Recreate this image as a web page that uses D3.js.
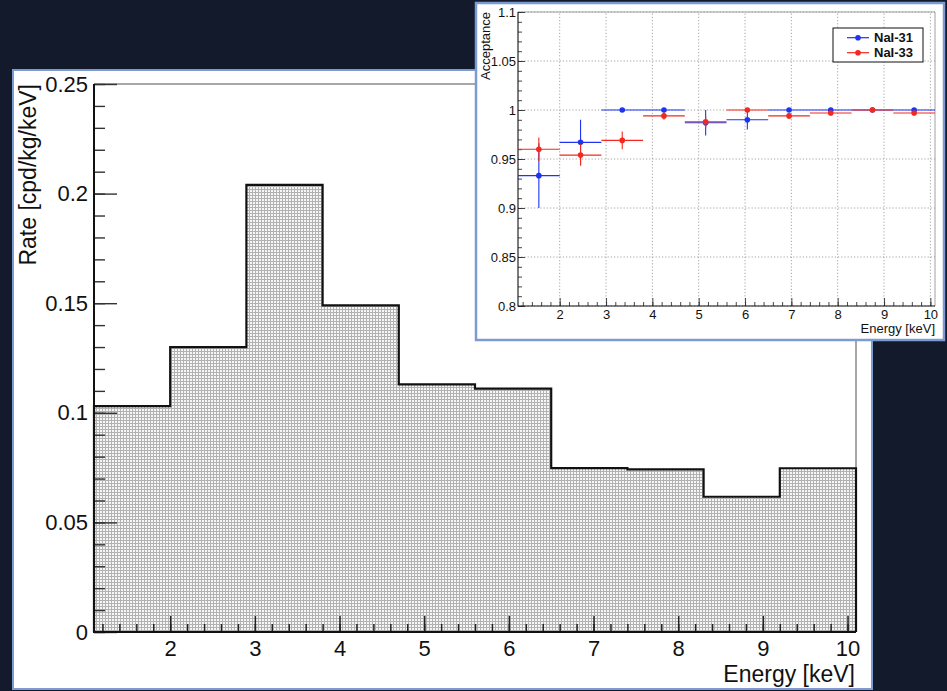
<!DOCTYPE html>
<html>
<head>
<meta charset="utf-8">
<script src="https://cdn.jsdelivr.net/npm/d3@7"></script>
<style>
  html, body { margin: 0; padding: 0; background: #131a2b; }
  svg { display: block; }
  text { font-family: "Liberation Sans", Arial, Helvetica, sans-serif; }
</style>
</head>
<body>
<svg id="chart" width="947" height="691"></svg>
<script>
// ---- Rate spectrum (main histogram) ----
const binEdges = [1.1, 2.0, 2.9, 3.8, 4.7, 5.6, 6.5, 7.4, 8.3, 9.2, 10.1];
const rates = [0.103, 0.130, 0.204, 0.149, 0.113, 0.111, 0.0748, 0.0742, 0.0617, 0.0747];
const rateTicks = [0, 0.05, 0.1, 0.15, 0.2, 0.25];
const rateTickLabels = ["0", "0.05", "0.1", "0.15", "0.2", "0.25"];
const energyTicks = [2, 3, 4, 5, 6, 7, 8, 9, 10];
const energyTickLabels = ["2", "3", "4", "5", "6", "7", "8", "9", "10"];

// ---- Acceptance per detector (inset) ----
const binCenters = [1.55, 2.45, 3.35, 4.25, 5.15, 6.05, 6.95, 7.85, 8.75, 9.65];
const seriesNames = ["NaI-31", "NaI-33"];
const seriesColors = ["#1d35f2", "#f2291f"];
const nai31 = [0.933, 0.967, 1.000, 1.000, 0.987, 0.990, 1.000, 1.000, 1.000, 1.000];
const nai31Err = [0.033, 0.023, 0, 0, 0.013, 0.010, 0, 0, 0, 0];
const nai33 = [0.960, 0.954, 0.969, 0.994, 0.988, 1.000, 0.994, 0.997, 1.000, 0.997];
const nai33Err = [0.012, 0.011, 0.009, 0.004, 0.006, 0, 0.003, 0.002, 0, 0.002];
const acceptanceTicks = [0.8, 0.85, 0.9, 0.95, 1.0, 1.05, 1.1];
const acceptanceTickLabels = ["0.8", "0.85", "0.9", "0.95", "1", "1.05", "1.1"];

const svg = d3.select("#chart");
const FONT = '"Liberation Sans", Arial, Helvetica, sans-serif';
const panelBorder = "#7c9bd3";

// dotted fill used by the histogram
const defs = svg.append("defs");
const pat = defs.append("pattern")
  .attr("id", "dotFill").attr("patternUnits", "userSpaceOnUse")
  .attr("width", 3).attr("height", 3);
pat.append("rect").attr("width", 3).attr("height", 3).attr("fill", "#b2b2b2");
pat.append("rect").attr("x", 1).attr("y", 1).attr("width", 2).attr("height", 2).attr("fill", "#f6f6f6");

// ================= main panel =================
svg.append("rect")
  .attr("x", 13).attr("y", 70).attr("width", 859).attr("height", 619)
  .attr("fill", "#ffffff").attr("stroke", panelBorder).attr("stroke-width", 2);

const x = d3.scaleLinear().domain([1.1, 10.1]).range([94, 856]);
const y = d3.scaleLinear().domain([0, 0.25]).range([632, 84]);

const main = svg.append("g");

// filled histogram
const stepPts = binEdges.map((e, i) => [e, rates[Math.min(i, rates.length - 1)]]);
main.append("path")
  .datum(stepPts)
  .attr("d", d3.area().curve(d3.curveStepAfter)
    .x(d => x(d[0])).y0(y(0)).y1(d => y(d[1])))
  .attr("fill", "url(#dotFill)");

// frame: top and right in grey
main.append("path")
  .attr("d", `M${x(1.1)},${y(0.25)}H${x(10.1)}V${y(0)}`)
  .attr("fill", "none").attr("stroke", "#8a8a8a").attr("stroke-width", 1.5);

// histogram outline
const outlinePts = [[binEdges[0], 0], ...stepPts, [binEdges[binEdges.length - 1], 0]];
main.append("path")
  .datum(outlinePts)
  .attr("d", d3.line().curve(d3.curveStepAfter).x(d => x(d[0])).y(d => y(d[1])))
  .attr("fill", "none").attr("stroke", "#111").attr("stroke-width", 2.2);

// y axis (ticks point inward)
const yMinor = d3.range(0, 0.2501, 0.01);
main.append("g").attr("transform", `translate(${x(1.1)},0)`)
  .call(d3.axisLeft(y).tickValues(yMinor).tickSize(-11).tickFormat(""))
  .call(g => g.select(".domain").remove())
  .call(g => g.selectAll("line").attr("stroke", "#333").attr("stroke-width", 1.4));
main.append("g").attr("transform", `translate(${x(1.1)},0)`)
  .call(d3.axisLeft(y).tickValues(rateTicks).tickSize(-23).tickPadding(6)
    .tickFormat((d, i) => rateTickLabels[i]))
  .call(g => g.select(".domain").remove())
  .call(g => g.selectAll("line").attr("stroke", "#333").attr("stroke-width", 1.4))
  .call(g => g.selectAll("text").attr("font-family", FONT).attr("font-size", 22).attr("fill", "#111"));

// x axis
const xMinor = d3.range(1.2, 10.01, 0.2);
main.append("g").attr("transform", `translate(0,${y(0)})`)
  .call(d3.axisBottom(x).tickValues(xMinor).tickSize(-8).tickFormat(""))
  .call(g => g.select(".domain").remove())
  .call(g => g.selectAll("line").attr("stroke", "#222").attr("stroke-width", 1.5));
main.append("g").attr("transform", `translate(0,${y(0)})`)
  .call(d3.axisBottom(x).tickValues(energyTicks).tickSize(-16).tickPadding(8)
    .tickFormat((d, i) => energyTickLabels[i]))
  .call(g => g.select(".domain").remove())
  .call(g => g.selectAll("line").attr("stroke", "#222").attr("stroke-width", 1.5))
  .call(g => g.selectAll("text").attr("font-family", FONT).attr("font-size", 22).attr("fill", "#111"));

// axis lines
main.append("path")
  .attr("d", `M${x(1.1)},${y(0.25)}V${y(0)}H${x(10.1)}`)
  .attr("fill", "none").attr("stroke", "#111").attr("stroke-width", 2);

// titles
main.append("text")
  .attr("transform", `translate(36,84) rotate(-90)`)
  .attr("text-anchor", "end").attr("font-size", 23).attr("fill", "#111")
  .text("Rate [cpd/kg/keV]");
main.append("text")
  .attr("x", 855).attr("y", 682)
  .attr("text-anchor", "end").attr("font-size", 23).attr("fill", "#111")
  .text("Energy [keV]");

// ================= inset =================
svg.append("rect")
  .attr("x", 476).attr("y", 3).attr("width", 468).attr("height", 337)
  .attr("fill", "#ffffff").attr("stroke", panelBorder).attr("stroke-width", 2.5);

const xi = d3.scaleLinear().domain([1.1, 10.1]).range([518, 935]);
const yi = d3.scaleLinear().domain([0.8, 1.1]).range([306, 12]);
const inset = svg.append("g");

// dotted grid
inset.append("g").selectAll("line").data(energyTicks).join("line")
  .attr("x1", d => xi(d)).attr("x2", d => xi(d))
  .attr("y1", yi(0.8)).attr("y2", yi(1.1))
  .attr("stroke", "#9a9a9a").attr("stroke-width", 0.9).attr("stroke-dasharray", "1.2,2");
inset.append("g").selectAll("line").data(acceptanceTicks).join("line")
  .attr("x1", xi(1.1)).attr("x2", xi(10.1))
  .attr("y1", d => yi(d)).attr("y2", d => yi(d))
  .attr("stroke", "#9a9a9a").attr("stroke-width", 0.9).attr("stroke-dasharray", "1.2,2");

// frame top/right
inset.append("path")
  .attr("d", `M${xi(1.1)},${yi(1.1)}H${xi(10.1)}V${yi(0.8)}`)
  .attr("fill", "none").attr("stroke", "#8a8a8a").attr("stroke-width", 0.8);

// inset axes
const yiMinor = d3.range(0.8, 1.1001, 0.01);
inset.append("g").attr("transform", `translate(${xi(1.1)},0)`)
  .call(d3.axisLeft(yi).tickValues(yiMinor).tickSize(-4).tickFormat(""))
  .call(g => g.select(".domain").remove())
  .call(g => g.selectAll("line").attr("stroke", "#333").attr("stroke-width", 0.9));
inset.append("g").attr("transform", `translate(${xi(1.1)},0)`)
  .call(d3.axisLeft(yi).tickValues(acceptanceTicks).tickSize(-7).tickPadding(2)
    .tickFormat((d, i) => acceptanceTickLabels[i]))
  .call(g => g.select(".domain").remove())
  .call(g => g.selectAll("line").attr("stroke", "#333").attr("stroke-width", 0.9))
  .call(g => g.selectAll("text").attr("font-family", FONT).attr("font-size", 13).attr("fill", "#111"));

const xiMinor = d3.range(1.2, 10.01, 0.2);
inset.append("g").attr("transform", `translate(0,${yi(0.8)})`)
  .call(d3.axisBottom(xi).tickValues(xiMinor).tickSize(-4).tickFormat(""))
  .call(g => g.select(".domain").remove())
  .call(g => g.selectAll("line").attr("stroke", "#333").attr("stroke-width", 0.9));
inset.append("g").attr("transform", `translate(0,${yi(0.8)})`)
  .call(d3.axisBottom(xi).tickValues(energyTicks).tickSize(-8).tickPadding(4)
    .tickFormat((d, i) => energyTickLabels[i]))
  .call(g => g.select(".domain").remove())
  .call(g => g.selectAll("line").attr("stroke", "#333").attr("stroke-width", 0.9))
  .call(g => g.selectAll("text").attr("font-family", FONT).attr("font-size", 13).attr("fill", "#111"));

inset.append("path")
  .attr("d", `M${xi(1.1)},${yi(1.1)}V${yi(0.8)}H${xi(10.1)}`)
  .attr("fill", "none").attr("stroke", "#111").attr("stroke-width", 1.1);

inset.append("text")
  .attr("transform", `translate(490,12) rotate(-90)`)
  .attr("text-anchor", "end").attr("font-size", 13).attr("fill", "#111")
  .text("Acceptance");
inset.append("text")
  .attr("x", 935).attr("y", 333)
  .attr("text-anchor", "end").attr("font-size", 13).attr("fill", "#111")
  .text("Energy [keV]");

// error-bar series
const series = [
  { name: seriesNames[0], color: seriesColors[0], values: nai31, errs: nai31Err },
  { name: seriesNames[1], color: seriesColors[1], values: nai33, errs: nai33Err }
];
series.forEach(s => {
  const g = inset.append("g");
  const pts = binCenters.map((c, i) => ({ c, lo: binEdges[i], hi: binEdges[i + 1], v: s.values[i], e: s.errs[i] }));
  g.selectAll("line.h").data(pts).join("line").attr("class", "h")
    .attr("x1", d => xi(d.lo)).attr("x2", d => xi(d.hi))
    .attr("y1", d => yi(d.v)).attr("y2", d => yi(d.v))
    .attr("stroke", s.color).attr("stroke-width", 1.1);
  g.selectAll("line.v").data(pts.filter(d => d.e > 0)).join("line").attr("class", "v")
    .attr("x1", d => xi(d.c)).attr("x2", d => xi(d.c))
    .attr("y1", d => yi(d.v - d.e)).attr("y2", d => yi(d.v + d.e))
    .attr("stroke", s.color).attr("stroke-width", 1.1);
  g.selectAll("circle").data(pts).join("circle")
    .attr("cx", d => xi(d.c)).attr("cy", d => yi(d.v)).attr("r", 2.8)
    .attr("fill", s.color);
});

// legend
const leg = inset.append("g");
leg.append("rect").attr("x", 833).attr("y", 28).attr("width", 90).attr("height", 34)
  .attr("fill", "#fff").attr("stroke", "#111").attr("stroke-width", 1);
series.forEach((s, i) => {
  const ly = 37.7 + i * 15;
  leg.append("line").attr("x1", 847).attr("x2", 869).attr("y1", ly).attr("y2", ly)
    .attr("stroke", s.color).attr("stroke-width", 1.2);
  leg.append("circle").attr("cx", 858).attr("cy", ly).attr("r", 2.8).attr("fill", s.color);
  leg.append("text").attr("x", 874).attr("y", ly + 4.6)
    .attr("font-size", 13).attr("font-weight", "bold").attr("fill", "#111")
    .text(s.name);
});
</script>
</body>
</html>
